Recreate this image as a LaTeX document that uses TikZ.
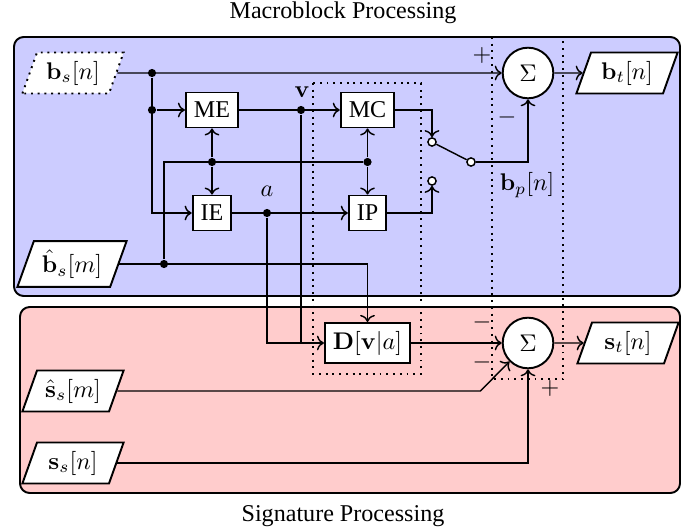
\documentclass[tikz,border=0pt]{standalone}
\usepackage[no-math]{fontspec}
\setmainfont{Liberation Serif}
\usetikzlibrary{arrows.meta,positioning,shapes.geometric,calc}
\definecolor{mbfill}{RGB}{204,204,255}
\definecolor{sgfill}{RGB}{255,204,204}

\begin{document}
\begin{tikzpicture}[
  x=0.01458cm, y=-0.01458cm,
  blk/.style={draw, thick, fill=white, minimum height=14.5pt},
  sumnode/.style={draw, thick, circle, fill=white, minimum size=21pt, inner sep=0pt},
  sig/.style={draw, thick, trapezium, trapezium left angle=70, trapezium right angle=110,
              trapezium stretches body, fill=white, minimum width=42pt, minimum height=17pt},
  dot/.style={circle, fill, inner sep=0pt, minimum size=3.4pt},
  pin/.style={circle, draw, semithick, fill=white, inner sep=0pt, minimum size=3.4pt},
  region/.style={draw, thick, rounded corners=4pt},
  zone/.style={thick, dotted},
  flow/.style={->, semithick},
  wire/.style={semithick},
]
\useasboundingbox (0,0) rectangle (686,531);

\draw[region, fill=mbfill] (14,37) rectangle (680,296);
\draw[region, fill=sgfill] (20,307) rectangle (680,493);
\node (ttop) at (343,13) {Macroblock Processing};
\node (tbot) at (343,516) {Signature Processing};
\draw[zone] (313,83) rectangle (421,374);
\draw[zone] (492,37) rectangle (563,379);

\node[sig, dotted] (bsn) at (73,73) {$\mathbf{b}_s[n]$};
\node[sig, minimum height=19pt] (bhat) at (72,264) {$\hat{\mathbf{b}}_s[m]$};
\node[sig] (shat) at (73,391) {$\hat{\mathbf{s}}_s[m]$};
\node[sig] (ssn)  at (73,463) {$\mathbf{s}_s[n]$};
\node[sig] (btn)  at (627,73) {$\mathbf{b}_t[n]$};
\node[sig] (stn)  at (628,343) {$\mathbf{s}_t[n]$};

\node[blk] (me)  at (212,110) {ME};
\node[blk] (ie)  at (212,213) {IE};
\node[blk] (mc)  at (367.5,110) {MC};
\node[blk] (ip)  at (367.5,213) {IP};
\node[blk] (dva) at (367.5,343) {$\mathbf{D}[\mathbf{v}|a]$};
\node[sumnode] (sum1) at (528,73) {$\Sigma$};
\node[sumnode] (sum2) at (528,343) {$\Sigma$};

\node[dot] (j1) at (152,73) {};
\node[dot] (j2) at (152,110) {};
\node[dot] (j3) at (212,162) {};
\node[dot] (j4) at (164,264) {};
\node[dot] (j5) at (367.5,162) {};
\node[dot] (vj) at (301,110) {};
\node[dot] (aj) at (267,213) {};
\node[pin] (c1) at (432,142) {};
\node[pin] (c2) at (432,181) {};
\node[pin] (pv) at (471,162) {};

\node (vl)  at (302,92) {$\mathbf{v}$};
\node (al)  at (267,191) {$a$};
\node (bpl) at (527,185) {$\mathbf{b}_p[n]$};
\node (pl1) at (482,55) {$+$};
\node (mi1) at (507,117) {$-$};
\node (mi2) at (482,322) {$-$};
\node (mi3) at (482,362) {$-$};
\node (pl2) at (550,388) {$+$};

\draw[flow] (bsn) -- (sum1);
\draw[flow] (j1) |- (ie);
\draw[flow] (j2) -- (me);
\draw[flow] (me) -- (mc);
\draw[flow] (j3) -- (me);
\draw[flow] (j3) -- (ie);
\draw[wire] (j4) |- (j5);
\draw[flow] (j5) -- (mc);
\draw[flow] (j5) -- (ip);
\draw[flow] (bhat) -| (dva);
\draw[flow] (ie) -- (ip);
\draw[flow] (aj) |- (dva);
\draw[wire] (vj) -- (vj |- dva);
\draw[flow] (mc) -| (c1);
\draw[flow] (ip) -| (c2);
\draw[wire] (c1) -- (pv);
\draw[flow] (pv) -| (sum1);
\draw[flow] (sum1) -- (btn);
\draw[flow] (dva) -- (sum2);
\draw[flow] (sum2) -- (stn);
\coordinate (kink) at ($(sum2.225)+(-29,29)$);
\draw[flow] (shat) -- (shat -| kink) -- (sum2.225);
\draw[flow] (ssn) -| (sum2);

\end{tikzpicture}
\end{document}
